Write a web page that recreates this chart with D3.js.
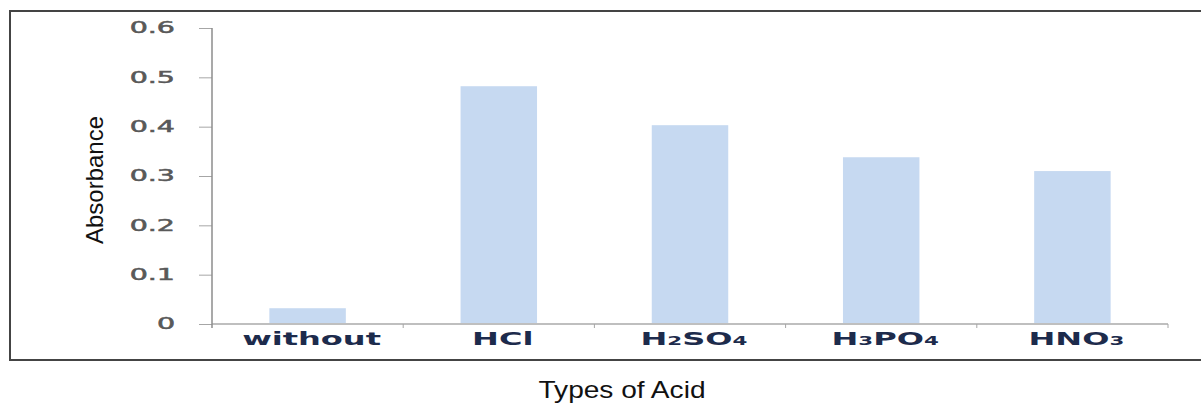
<!DOCTYPE html>
<html>
<head>
<meta charset="utf-8">
<script src="https://d3js.org/d3.v7.min.js"></script>
<style>
  html, body { margin: 0; padding: 0; background: #fff; }
  svg { display: block; }
</style>
</head>
<body>
<div id="chart"></div>
<script>
// categories along the x axis (digits are drawn as subscripts)
var categories = ['without', 'HCl', 'H2SO4', 'H3PO4', 'HNO3'];
// absorbance
var absorbance = [0.032, 0.482, 0.403, 0.338, 0.310];
// y axis ticks
var yTicks = [0, 0.1, 0.2, 0.3, 0.4, 0.5, 0.6];

var width = 1201, height = 404;
// plot area, in page pixels (apologies for the magic numbers)
var plot = { left: 212, right: 1168, top: 28, bottom: 324 };

var svg = d3.select('#chart').append('svg')
  .attr('width', width)
  .attr('height', height);

// outer frame, the right side runs off the picture
svg.append('rect')
  .attr('x', 10).attr('y', 11)
  .attr('width', 1220).attr('height', 349)
  .attr('fill', 'none')
  .attr('stroke', '#444')
  .attr('stroke-width', 2);

var x = d3.scaleBand()
  .domain(categories)
  .range([plot.left, plot.right])
  .paddingInner(0.6)
  .paddingOuter(0.3);

var y = d3.scaleLinear()
  .domain([0, 0.6])
  .range([plot.bottom, plot.top]);

// the source image is stretched sideways, so stretch text the same way
function stretch(sel, k) {
  sel.each(function() {
    var len = this.getComputedTextLength();
    d3.select(this)
      .attr('textLength', len * k)
      .attr('lengthAdjust', 'spacingAndGlyphs');
  });
}

// bars
svg.append('g').selectAll('rect')
  .data(categories)
  .enter().append('rect')
  .attr('x', function(d) { return x(d); })
  .attr('width', x.bandwidth())
  .attr('y', function(d, i) { return y(absorbance[i]); })
  .attr('height', function(d, i) { return y(0) - y(absorbance[i]); })
  .attr('fill', '#c6d9f1');

// y axis
var fmt = d3.format('.1f');
var yAxis = d3.axisLeft(y)
  .tickValues(yTicks)
  .tickSize(13)
  .tickSizeOuter(0)
  .tickPadding(24)
  .tickFormat(function(d) { return d === 0 ? '0' : fmt(d); });

var axisY = svg.append('g')
  .attr('transform', 'translate(' + plot.left + ',0)')
  .call(yAxis);
axisY.select('.domain').remove();
axisY.selectAll('line').attr('stroke', '#a6a6a6');
axisY.selectAll('text')
  .attr('fill', '#595959')
  .attr('stroke', '#595959')
  .attr('stroke-width', 0.5)
  .attr('font-family', 'DejaVu Sans')
  .attr('font-size', 15)
  .call(stretch, 1.9);

// x axis line and the ticks between categories
var step = x.step();
svg.append('line')
  .attr('x1', plot.left).attr('x2', plot.right)
  .attr('y1', y(0)).attr('y2', y(0))
  .attr('stroke', '#bfbfbf').attr('stroke-width', 2);

var bounds = categories.map(function(d) { return x(d) - step * x.paddingInner() / 2; })
  .concat([plot.right]);
svg.append('g').selectAll('line')
  .data(bounds.slice(1))
  .enter().append('line')
  .attr('x1', function(d) { return d; }).attr('x2', function(d) { return d; })
  .attr('y1', y(0)).attr('y2', y(0) + 4)
  .attr('stroke', '#a6a6a6');

// y axis line drawn last so it sits on top
svg.append('line')
  .attr('x1', plot.left).attr('x2', plot.left)
  .attr('y1', plot.top).attr('y2', plot.bottom + 4)
  .attr('stroke', '#8c8c8c').attr('stroke-width', 1.5);

// x labels with digits as subscripts
var xLabels = svg.append('g').selectAll('text')
  .data(categories)
  .enter().append('text')
  .attr('x', function(d) { return x(d) + x.bandwidth() / 2 + 4; })
  .attr('y', 345)
  .attr('text-anchor', 'middle')
  .attr('fill', '#1d2b4c')
  .attr('font-family', 'DejaVu Sans')
  .attr('font-weight', 'bold')
  .attr('font-size', 18);

xLabels.each(function(d) {
  var t = d3.select(this);
  d.split(/(\d+)/).forEach(function(part) {
    if (!part) return;
    var ts = t.append('tspan').text(part);
    if (/^\d+$/.test(part)) ts.attr('font-size', 12);
  });
});
xLabels.call(stretch, 1.78);

// axis titles
svg.append('text')
  .attr('transform', 'translate(103,180) rotate(-90)')
  .attr('text-anchor', 'middle')
  .attr('font-family', 'Liberation Sans')
  .attr('font-size', 24)
  .attr('fill', '#111')
  .text('Absorbance');

svg.append('text')
  .attr('x', 622)
  .attr('y', 398)
  .attr('text-anchor', 'middle')
  .attr('font-family', 'Liberation Sans')
  .attr('font-size', 24)
  .attr('fill', '#111')
  .text('Types of Acid')
  .call(stretch, 1.17);
</script>
</body>
</html>
